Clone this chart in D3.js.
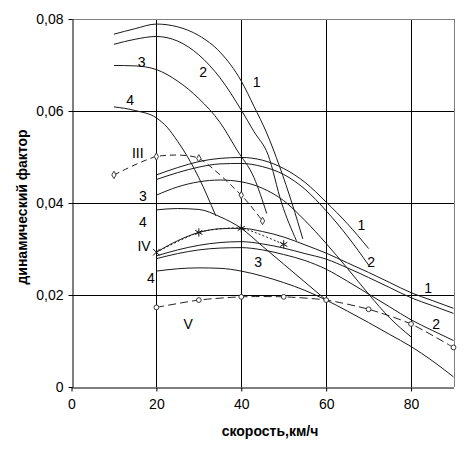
<!DOCTYPE html>
<html>
<head>
<meta charset="utf-8">
<script src="https://cdn.jsdelivr.net/npm/d3@7"></script>
<style>
  body { margin: 0; background: #fff; }
  svg { display: block; font-family: "Liberation Sans", Arial, sans-serif; }
</style>
</head>
<body>
<div id="chart"></div>
<script>
// ---- data (speed km/h, dynamic factor) ----
var gear3Curve1 = [[10,0.0767],[15,0.0779],[20,0.0789],[25,0.0783],[30,0.0764],[35,0.0728],[40,0.0665],[43,0.0610],[46,0.0552],[49,0.0480],[52,0.0398],[54.5,0.0322]];
var gear3Curve2 = [[10,0.0745],[15,0.0756],[20,0.0762],[25,0.0752],[30,0.0722],[35,0.0672],[40,0.0602],[43,0.0555],[46.3,0.0505],[49.5,0.0400],[53,0.0318]];
var gear3Curve3 = [[10,0.0699],[15,0.0698],[20,0.0690],[25,0.0665],[30,0.0627],[35,0.0575],[39,0.0515],[43,0.0455],[46,0.0377]];
var gear3Curve4 = [[10,0.0609],[15,0.0601],[20,0.0585],[22.5,0.0565],[25,0.0534],[28,0.0490],[30,0.0455],[32,0.0415],[34,0.0372]];

var gear4Curve1 = [[20,0.0461],[25,0.0477],[30,0.0490],[35,0.0497],[40,0.0499],[45,0.0493],[50,0.0475],[55,0.0445],[60,0.0402],[65,0.0355],[70,0.0301]];
var gear4Curve2 = [[20,0.0451],[25,0.0466],[30,0.0478],[35,0.0485],[40,0.0486],[45,0.0479],[50,0.0462],[55,0.0430],[60,0.0383],[65,0.0328],[70,0.0265]];
var gear4Curve3 = [[20,0.0417],[25,0.0435],[30,0.0446],[35,0.0450],[40,0.0446],[45,0.0432],[50,0.0405],[55,0.0362],[60,0.0312],[65,0.0258],[70,0.0202],[75,0.0150],[80,0.0109]];
var gear4Curve4 = [[20,0.0385],[25,0.0388],[30,0.0386],[35,0.0370],[40,0.0345],[45,0.0306],[50,0.0267],[55,0.0228],[60,0.0189]];

var gear5Curve1 = [[20,0.0293],[25,0.0318],[30,0.0336],[35,0.0344],[40,0.0345],[45,0.0338],[50,0.0326],[55,0.0309],[60,0.0291],[65,0.0270],[70,0.0249],[75,0.0227],[80,0.0205],[85,0.0188],[90,0.0171]];
var gear5Curve2 = [[20,0.0285],[25,0.0298],[30,0.0308],[35,0.0314],[40,0.0316],[45,0.0311],[50,0.0302],[55,0.0290],[60,0.0278],[65,0.0259],[70,0.0238],[75,0.0216],[80,0.0194],[85,0.0177],[90,0.0160]];
var gear5Curve3 = [[20,0.0279],[25,0.0290],[30,0.0298],[35,0.0302],[40,0.0303],[45,0.0298],[50,0.0288],[55,0.0275],[60,0.0256],[65,0.0230],[70,0.0202],[75,0.0174],[80,0.0146],[85,0.0123],[90,0.0101]];
var gear5Curve4 = [[20,0.0252],[25,0.0257],[30,0.0259],[35,0.0258],[40,0.0252],[45,0.0241],[50,0.0227],[55,0.0210],[60,0.0189],[65,0.0165],[70,0.0140],[75,0.0114],[80,0.0088],[85,0.0057],[90,0.0022]];

var lineIII = [[10,0.0461],[20,0.0501],[30,0.0497],[40,0.0417],[45,0.0361]];
var lineIV  = [[20,0.0293],[30,0.0336],[40,0.0345],[50,0.0310]];
var lineV   = [[20,0.0173],[30,0.0189],[40,0.0196],[50,0.0196],[60,0.0189],[70,0.0169],[80,0.0137],[90,0.0086]];

var xTicks = [0, 20, 40, 60, 80];
var yTicks = [0, 0.02, 0.04, 0.06, 0.08];

// curve labels: text, speed, factor
var curveLabels = [
  ["1", 43.6, 0.0663], ["2", 31.0, 0.0685], ["3", 16.5, 0.0707], ["4", 13.8, 0.0624],
  ["III", 15.6, 0.0508], ["3", 16.8, 0.0415], ["4", 16.8, 0.0359],
  ["IV", 17.1, 0.0307], ["4", 18.7, 0.0238], ["V", 27.5, 0.0138], ["3", 44.0, 0.0272],
  ["1", 68.3, 0.0352], ["2", 70.6, 0.0272], ["1", 84.0, 0.0215], ["2", 85.9, 0.0138]
];

var width = 472, height = 453;
var svg = d3.select('#chart').append('svg')
    .attr('width', width)
    .attr('height', height);

var x = d3.scaleLinear().domain([0, 90]).range([71.5, 453.5]);
var y = d3.scaleLinear().domain([0, 0.08]).range([387, 19]);

// grid
var grid = svg.append('g').attr('shape-rendering', 'crispEdges');
grid.selectAll('.vg').data(xTicks.slice(1)).enter().append('line')
    .attr('x1', d => Math.round(x(d)) + 0.5).attr('x2', d => Math.round(x(d)) + 0.5)
    .attr('y1', y(0)).attr('y2', y(0.08))
    .attr('stroke', '#000');
grid.selectAll('.hg').data(yTicks.slice(1, 4)).enter().append('line')
    .attr('x1', x(0)).attr('x2', x(90))
    .attr('y1', d => Math.round(y(d)) + 0.5).attr('y2', d => Math.round(y(d)) + 0.5)
    .attr('stroke', '#000');
// frame: top and right grey
grid.append('line').attr('x1', x(0)).attr('x2', x(90))
    .attr('y1', Math.round(y(0.08)) + 0.5).attr('y2', Math.round(y(0.08)) + 0.5)
    .attr('stroke', '#808080');
grid.append('line').attr('x1', Math.round(x(90)) + 0.5).attr('x2', Math.round(x(90)) + 0.5)
    .attr('y1', y(0)).attr('y2', y(0.08))
    .attr('stroke', '#808080');

var fmt = function(d) { return d === 0 ? '0' : d3.format('.2f')(d).replace('.', ','); };

var xAxis = svg.append('g')
    .attr('transform', 'translate(0,' + (Math.round(y(0)) + 0.5) + ')')
    .call(d3.axisBottom(x).tickValues(xTicks).tickSize(4).tickSizeOuter(0).tickFormat(d3.format('d')));
var yAxis = svg.append('g')
    .attr('transform', 'translate(' + (Math.round(x(0)) + 0.5) + ',0)')
    .call(d3.axisLeft(y).tickValues(yTicks).tickSize(4).tickSizeOuter(0).tickFormat(fmt));

[xAxis, yAxis].forEach(function(a) {
  a.select('.domain').attr('stroke', '#000');
  a.selectAll('.tick line').attr('stroke', '#000');
  a.selectAll('text').attr('font-size', 14).attr('fill', '#000')
      .attr('font-family', '"Liberation Sans", Arial, sans-serif');
});
xAxis.selectAll('text').attr('dy', '1.05em');
yAxis.selectAll('text').attr('x', -9);

// curves
var line = d3.line()
    .x(d => x(d[0]))
    .y(d => y(d[1]))
    .curve(d3.curveMonotoneX);

var solidCurves = [gear3Curve1, gear3Curve2, gear3Curve3, gear3Curve4,
                   gear4Curve1, gear4Curve2, gear4Curve3, gear4Curve4,
                   gear5Curve1, gear5Curve2, gear5Curve3, gear5Curve4];

svg.append('g').selectAll('path').data(solidCurves).enter().append('path')
    .attr('d', line)
    .attr('fill', 'none')
    .attr('stroke', '#1a1a1a')
    .attr('stroke-width', 1);

var smooth = d3.line()
    .x(d => x(d[0]))
    .y(d => y(d[1]))
    .curve(d3.curveCardinal.tension(0.3));

svg.append('path').datum(lineIII).attr('d', smooth)
    .attr('fill', 'none').attr('stroke', '#222').attr('stroke-dasharray', '6,4');
svg.append('path').datum(lineIV).attr('d', smooth)
    .attr('fill', 'none').attr('stroke', '#222').attr('stroke-dasharray', '2,2');
svg.append('path').datum(lineV).attr('d', smooth)
    .attr('fill', 'none').attr('stroke', '#222').attr('stroke-dasharray', '8,4');

// markers
svg.append('g').selectAll('path').data(lineIII).enter().append('path')
    .attr('transform', d => 'translate(' + x(d[0]) + ',' + y(d[1]) + ')')
    .attr('d', d3.symbol().type(d3.symbolDiamond).size(16)())
    .attr('fill', '#fff').attr('stroke', '#222').attr('stroke-width', 0.9);

var starType = d3.symbolAsterisk || d3.symbolCross;
var timesType = d3.symbolTimes || d3.symbolX || d3.symbolCross;
svg.append('g').selectAll('path').data(lineIV).enter().append('path')
    .attr('transform', d => 'translate(' + x(d[0]) + ',' + y(d[1]) + ')')
    .attr('d', (d, i) => d3.symbol().type(i === 0 ? timesType : starType).size(i === 0 ? 30 : 48)())
    .attr('fill', 'none').attr('stroke', '#111').attr('stroke-width', 1);

svg.append('g').selectAll('circle').data(lineV).enter().append('circle')
    .attr('cx', d => x(d[0])).attr('cy', d => y(d[1])).attr('r', 2.4)
    .attr('fill', '#fff').attr('stroke', '#222').attr('stroke-width', 0.9);

// labels on curves
svg.append('g').selectAll('text').data(curveLabels).enter().append('text')
    .attr('x', d => x(d[1])).attr('y', d => y(d[2]))
    .attr('text-anchor', 'middle')
    .attr('dominant-baseline', 'central')
    .attr('font-size', 14)
    .attr('fill', '#000')
    .text(d => d[0]);

// axis titles
svg.append('text')
    .attr('x', 270).attr('y', 431)
    .attr('text-anchor', 'middle').attr('dominant-baseline', 'central')
    .attr('font-size', 14).attr('font-weight', 'bold')
    .text('скорость,км/ч');

svg.append('text')
    .attr('transform', 'translate(22,207) rotate(-90)')
    .attr('text-anchor', 'middle').attr('dominant-baseline', 'central')
    .attr('font-size', 14).attr('font-weight', 'bold')
    .text('динамический фактор');
</script>
</body>
</html>
